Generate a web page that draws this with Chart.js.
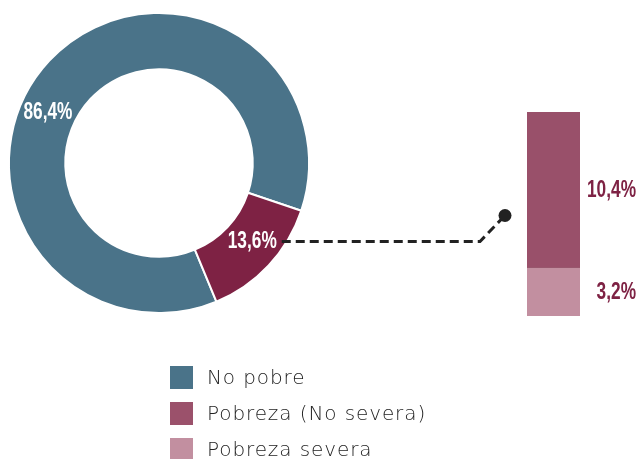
<!DOCTYPE html>
<html>
<head>
<meta charset="utf-8">
<script src="https://cdn.jsdelivr.net/npm/chart.js@4.4.0/dist/chart.umd.min.js"></script>
<style>
html, body { margin: 0; padding: 0; background: #fff; }
#wrap { position: relative; width: 639px; height: 459px; overflow: hidden; }
#wrap canvas { position: absolute; left: 0; top: 0; }
#legend { position: absolute; left: 170px; top: 359px; font-family: 'DejaVu Sans', sans-serif; font-weight: 200; font-size: 20px; letter-spacing: 0.9px; color: #222; }
.item { height: 36px; display: flex; align-items: center; }
.box { width: 23px; height: 23px; margin-right: 14px; }
</style>
</head>
<body>
<div id="wrap">
  <canvas id="ring" width="639" height="459"></canvas>
  <canvas id="split" width="639" height="459"></canvas>
  <div id="legend"></div>
</div>
<script>
// datos
const ringLabels = ['No pobre', 'Pobreza'];
const ringValues = [86.4, 13.6];
const splitLabels = ['Pobreza (No severa)', 'Pobreza severa'];
const splitValues = [10.4, 3.2];
const legendLabels = ['No pobre', 'Pobreza (No severa)', 'Pobreza severa'];

const ringColors = ['#4A7389', '#7E2244'];
const legendColors = ['#4A7389', '#9B516B', '#C28FA0'];
const numFont = "bold 24px 'Liberation Sans', Arial, sans-serif";
const squeeze = 0.72; // texto condensado

const fmt = (v) => v.toFixed(1).replace('.', ',') + '%';

function drawNum(ctx, text, x, y, align) {
    ctx.save();
    ctx.translate(x, y);
    ctx.scale(squeeze, 1);
    ctx.textAlign = align;
    ctx.textBaseline = 'middle';
    ctx.fillText(text, 0, 0);
    ctx.restore();
}

// posicion de la etiqueta dentro de cada arco
function labelPos(arc) {
    const a = arc.startAngle + 0.44 * (arc.endAngle - arc.startAngle);
    const r = (arc.innerRadius + arc.outerRadius) / 2;
    return { x: arc.x + Math.cos(a) * r, y: arc.y + Math.sin(a) * r };
}

const ringLabelPlugin = {
    id: 'ringLabels',
    afterDatasetsDraw(chart) {
        const ctx = chart.ctx;
        ctx.save();
        ctx.font = numFont;
        ctx.fillStyle = '#fff';
        chart.getDatasetMeta(0).data.forEach((arc, i) => {
            const p = labelPos(arc);
            drawNum(ctx, fmt(ringValues[i]), p.x, p.y, 'center');
        });
        ctx.restore();
    }
};

const ringChart = new Chart(document.getElementById('ring'), {
    type: 'doughnut',
    data: {
        labels: ringLabels,
        datasets: [{
            data: ringValues,
            backgroundColor: ringColors,
            borderColor: '#fff',
            borderWidth: 2
        }]
    },
    options: {
        responsive: false,
        animation: false,
        rotation: 157.5,
        cutout: '62.5%',
        layout: { padding: { left: 8, top: 12, right: 329, bottom: 145 } },
        plugins: { legend: { display: false }, tooltip: { enabled: false } }
    },
    plugins: [ringLabelPlugin]
});

// etiquetas de la barra y linea de conexion
const splitPlugin = {
    id: 'splitLabels',
    afterDraw(chart) {
        const ctx = chart.ctx;
        ctx.save();
        ctx.font = numFont;
        ctx.fillStyle = '#7E2244';
        const bars = [chart.getDatasetMeta(1).data[0], chart.getDatasetMeta(0).data[0]];
        bars.forEach((bar, i) => {
            const yMid = (bar.y + bar.base) / 2;
            drawNum(ctx, fmt(splitValues[i]), bar.x + bar.width / 2 + 56, yMid, 'right');
        });

        // conector desde 13,6%
        const arc = ringChart.getDatasetMeta(0).data[1];
        const p = labelPos(arc);
        const half = ctx.measureText(fmt(ringValues[1])).width * squeeze / 2;
        const left = bars[0].x - bars[0].width / 2;
        const dot = { x: left - 22, y: p.y - 26 };
        ctx.strokeStyle = '#222';
        ctx.lineWidth = 3;
        ctx.setLineDash([9, 5]);
        ctx.beginPath();
        ctx.moveTo(p.x + half + 5, p.y);
        ctx.lineTo(dot.x - 25, p.y);
        ctx.lineTo(dot.x, dot.y);
        ctx.stroke();
        ctx.setLineDash([]);
        ctx.fillStyle = '#222';
        ctx.beginPath();
        ctx.arc(dot.x, dot.y, 6.5, 0, Math.PI * 2);
        ctx.fill();
        ctx.restore();
    }
};

new Chart(document.getElementById('split'), {
    type: 'bar',
    data: {
        labels: [''],
        datasets: [
            { label: splitLabels[1], data: [splitValues[1]], backgroundColor: '#C28FA0' },
            { label: splitLabels[0], data: [splitValues[0]], backgroundColor: '#99506A',
              borderColor: '#86405A', borderWidth: { bottom: 1 }, borderSkipped: false }
        ]
    },
    options: {
        responsive: false,
        animation: false,
        layout: { padding: { left: 527, right: 59, top: 112, bottom: 143 } },
        datasets: { bar: { barPercentage: 1, categoryPercentage: 1 } },
        scales: {
            x: { display: false, stacked: true },
            y: { display: false, stacked: true, min: 0, max: 13.6 }
        },
        plugins: { legend: { display: false }, tooltip: { enabled: false } }
    },
    plugins: [splitPlugin]
});

// leyenda
const legend = document.getElementById('legend');
legendLabels.forEach((label, i) => {
    const item = document.createElement('div');
    item.className = 'item';
    item.innerHTML = '<span class="box" style="background:' + legendColors[i] + '"></span><span>' + label + '</span>';
    legend.appendChild(item);
});
</script>
</body>
</html>
